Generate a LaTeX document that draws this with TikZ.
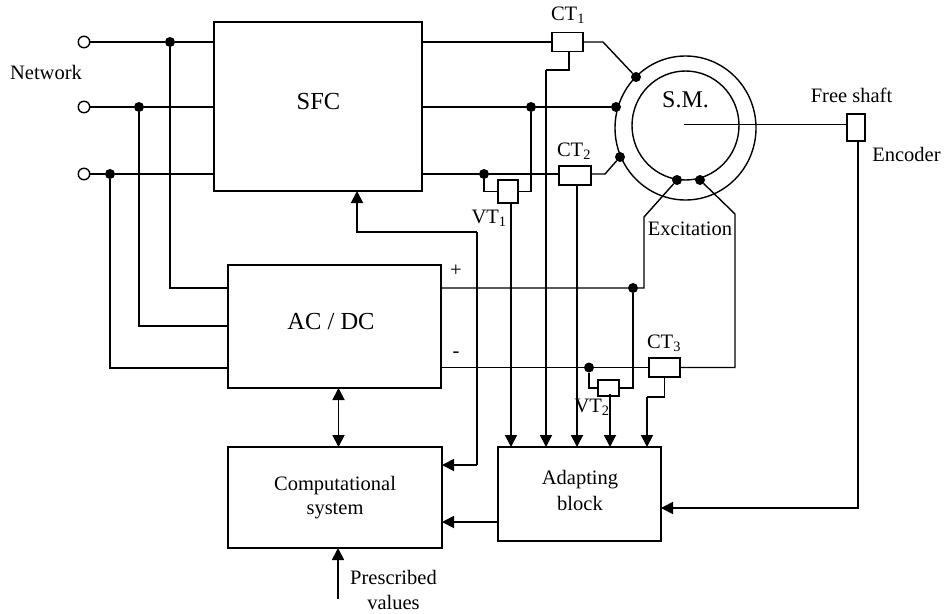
\documentclass[tikz,border=0pt]{standalone}
\usepackage{fontspec}
\setmainfont{Liberation Serif}
\usetikzlibrary{arrows.meta,shapes.geometric,calc}
\tikzset{
  wire/.style={line width=1.4pt,line join=miter},
  sig/.style={line width=1.8pt,-{Triangle[length=12pt,width=12pt]}},
  bisig/.style={line width=1.8pt,{Triangle[length=12pt,width=12pt]}-{Triangle[length=12pt,width=12pt]}},
  blockbox/.style={draw,line width=1.4pt,inner sep=0pt,outer sep=0pt,align=center,font=\fontsize{20.5}{25}\selectfont},
  sensor/.style={draw,line width=1.4pt,inner sep=0pt,outer sep=0pt,fill=white},
  term/.style={circle,draw,line width=1.4pt,fill=white,inner sep=0pt,outer sep=0pt,minimum size=11.5pt},
  jdot/.style={circle,fill=black,inner sep=0pt,outer sep=0pt,minimum size=10pt},
  lab/.style={inner sep=0pt,align=center,font=\fontsize{20.5}{25}\selectfont},
  ring/.style={ellipse,draw,line width=1.4pt,inner sep=0pt,outer sep=0pt},
}
\newcommand{\sub}[1]{\textsubscript{#1}}
\begin{document}
\begin{tikzpicture}[x=1pt,y=-1pt]
\useasboundingbox (0,0) rectangle (944,613);
% blocks
\node[blockbox,minimum width=208pt,minimum height=169pt] (sfc) at (318,106.5) {};
\node[lab,font=\fontsize{24.5}{28}\selectfont] (sfct) at (318.5,102) {SFC};
\node[blockbox,minimum width=213pt,minimum height=123pt] (acdc) at (334.5,326.5) {};
\node[lab,font=\fontsize{24.5}{28}\selectfont] (acdct) at (331,322) {AC / DC};
\node[blockbox,minimum width=214pt,minimum height=101pt] (comp) at (335,497.5) {};
\node[lab] (compt) at (335,498) {Computational\\[-1pt]system};
\node[blockbox,minimum width=163pt,minimum height=94pt] (adapt) at (579.5,494) {};
\node[lab] (adaptt) at (580,490) {Adapting\\[1pt]block};
% machine
\node[ring,minimum width=141pt,minimum height=144pt] (outer) at (685.5,128) {};
\node[ring,minimum width=107pt,minimum height=109pt] (inner) at (685.5,125.5) {};
\coordinate (shaft) at (684,124.5);
\node[inner sep=0pt,font=\fontsize{24}{28}\selectfont] (sm) at (685.5,100) {S.M.};
% terminals and junctions
\node[term] (t1) at (84,42) {};
\node[term] (t2) at (84,107) {};
\node[term] (t3) at (84,174) {};
\node[jdot] (d1) at (170,42) {};
\node[jdot] (d2) at (139,107) {};
\node[jdot] (d3) at (110,174) {};
\node[jdot] (s1) at (636,77) {};
\node[jdot] (s2) at (616,107) {};
\node[jdot] (s3) at (620,157) {};
\node[jdot] (e1) at (677,180) {};
\node[jdot] (e2) at (700,180) {};
\node[jdot] (d4) at (531,107) {};
\node[jdot] (d5) at (484,174) {};
\node[jdot] (d6) at (633,288) {};
\node[jdot] (d7) at (589,367.5) {};
% sensors
\node[sensor,minimum width=31pt,minimum height=19pt] (ct1) at (567.5,42) {};
\node[sensor,minimum width=32pt,minimum height=19pt] (ct2) at (575,175.5) {};
\node[sensor,minimum width=31pt,minimum height=19pt] (ct3) at (664.5,367.5) {};
\node[sensor,minimum width=20pt,minimum height=23pt] (vt1) at (508,191.5) {};
\node[sensor,minimum width=21pt,minimum height=16pt] (vt2) at (608.5,388) {};
\node[sensor,minimum width=18pt,minimum height=27pt] (enc) at (856,127.5) {};
% labels
\node[lab] (lnet) at (46,72) {Network};
\node[lab] (lct1) at (568,15) {CT\sub{1}};
\node[lab] (lct2) at (574,151) {CT\sub{2}};
\node[lab] (lct3) at (664,343) {CT\sub{3}};
\node[lab] (lvt1) at (489,218) {VT\sub{1}};
\node[lab] (lvt2) at (592,407) {VT\sub{2}};
\node[lab] (lfree) at (851.5,95) {Free shaft};
\node[lab] (lenc) at (906.5,154) {Encoder};
\node[lab] (lexc) at (690,229) {Excitation};
\node[lab] (lplus) at (456,271) {+};
\node[lab] (lminus) at (456,355) {-};
\node[lab] (lpres) at (393.5,590) {Prescribed\\[0pt]values};
% routing points
\coordinate (a1) at (603,42);
\coordinate (a3) at (605,174);
\coordinate (x1) at (644,217);
\coordinate (x2) at (735,214);
\coordinate (fb1) at (357,232);
\coordinate (fb2) at (477,232);
\coordinate (fb3) at (477,465);
\coordinate (pres) at (338,599);
\coordinate (vt2o) at (610,394);
% power wiring
\draw[wire] (t1) -- (d1) -- (sfc.west |- d1);
\draw[wire] (t2) -- (d2) -- (sfc.west |- d2);
\draw[wire] (t3) -- (d3) -- (sfc.west |- d3);
\draw[wire] (d1) -- (d1 |- 0,288) -- (acdc.west |- 0,288);
\draw[wire] (d2) -- (d2 |- 0,326) -- (acdc.west |- 0,326);
\draw[wire] (d3) -- (d3 |- 0,368) -- (acdc.west |- 0,368);
\draw[wire] (sfc.east |- ct1) -- (ct1.west);
\draw[wire] (ct1.east) -- (a1) -- (s1);
\draw[wire] (sfc.east |- d4) -- (d4) -- (s2);
\draw[wire] (sfc.east |- d5) -- (d5) -- (ct2.west |- d5);
\draw[wire] (ct2.east |- a3) -- (a3) -- (s3);
\draw[wire] (d5) -- (d5 |- vt1) -- (vt1.west);
\draw[wire] (d4) -- (d4 |- vt1) -- (vt1.east);
% excitation
\draw[wire] (e1) -- (x1) -- (x1 |- d6) -- (d6) -- (acdc.east |- d6);
\draw[wire] (e2) -- (x2) -- (x2 |- ct3) -- (ct3.east);
\draw[wire] (acdc.east |- d7) -- (d7) -- (ct3.west);
\draw[wire] (d7) -- (d7 |- vt2) -- (vt2.west);
\draw[wire] (d6) -- (d6 |- vt2) -- (vt2.east);
% shaft
\draw[wire] (shaft) -- (enc.west |- shaft);
% measurement signals
\draw[sig] (511,203) -- (511,447);
\draw[wire] (569,51) -- (569,70) -- (546,70);
\draw[sig] (546,70) -- (546,447);
\draw[sig] (577,185) -- (577,447);
\draw[sig] (vt2o) -- (610,447);
\draw[wire] (ct3.south) -- (664.5,397) -- (647,397);
\draw[sig] (647,397) -- (647,447);
\draw[sig] (858,141) -- (858,508) -- (adapt.east |- 0,508);
\draw[sig] (adapt.west |- 0,522) -- (comp.east |- 0,522);
% control
\draw[wire] (fb2) -- (fb3);
\draw[sig] (fb3) -- (comp.east |- fb3);
\draw[sig] (fb2) -- (fb1) -- (fb1 |- sfc.south);
\draw[bisig] (338.5,388) -- (338.5,447);
\draw[sig] (pres) -- (pres |- comp.south);
\end{tikzpicture}
\end{document}
